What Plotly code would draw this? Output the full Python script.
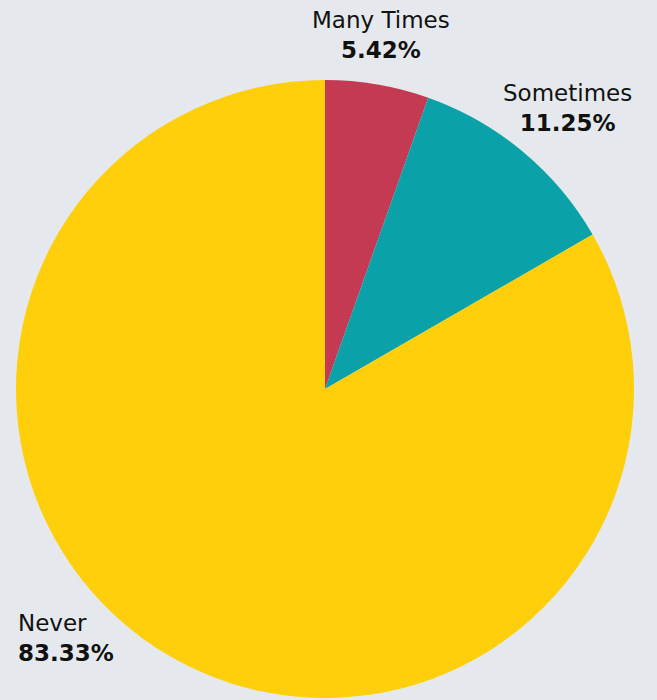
import plotly.graph_objects as go

labels = ["Many Times", "Sometimes", "Never"]
values = [5.42, 11.25, 83.33]
colors = ["#C43A52", "#0AA2A8", "#FFCF0C"]

W, H = 657, 700
cx, cy, r = 325, 389, 309

# label block anchors in pixels: (x, vertical middle of the two lines, alignment)
label_pos = [(381, 35, "center"), (567, 108, "center"), (17, 638, "left")]

fig = go.Figure(go.Pie(
    labels=labels,
    values=values,
    marker=dict(colors=colors, line=dict(width=0)),
    sort=False,
    direction="clockwise",
    rotation=0,
    textinfo="none",
    hoverinfo="label+percent",
    domain=dict(x=[(cx - r) / W, (cx + r) / W], y=[1 - (cy + r) / H, 1 - (cy - r) / H]),
    showlegend=False,
))

font_family = "DejaVu Sans, Open Sans, sans-serif"
for lab, val, (x, ym, align) in zip(labels, values, label_pos):
    fig.add_annotation(
        x=x / W, y=1 - ym / H, xref="paper", yref="paper",
        text=f"{lab}<br><b>{val:.2f}%</b>", showarrow=False, align=align,
        xanchor=align, yanchor="middle", borderpad=0,
        font=dict(family=font_family, size=23, color="#111111"),
    )

fig.update_layout(
    width=W, height=H,
    margin=dict(l=0, r=0, t=0, b=0),
    paper_bgcolor="#E5E9ED",
    plot_bgcolor="#E5E9ED",
)

fig.write_html("out.html")
